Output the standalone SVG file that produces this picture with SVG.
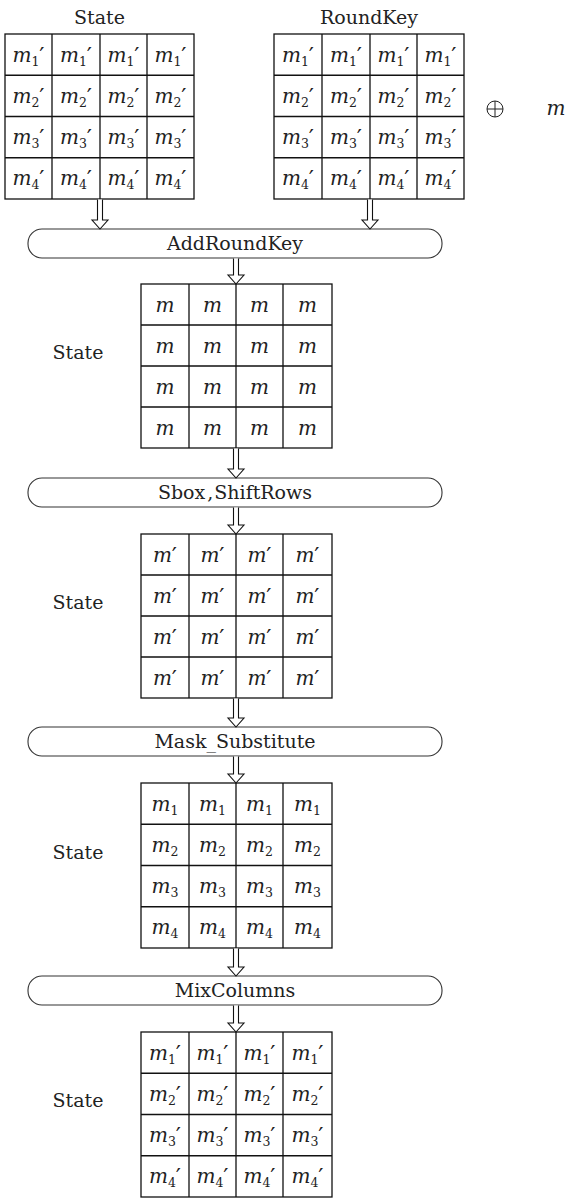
<svg xmlns="http://www.w3.org/2000/svg" width="570" height="1199" viewBox="0 0 570 1199" font-family="'DejaVu Serif', serif">
<style>
  text{fill:#222}
  .t{font-size:19px;text-anchor:middle}
  .c{font-size:20px;text-anchor:middle}
  .i{font-style:italic}
  .s{font-size:12.5px;font-style:normal}
  .p{font-size:23px}
  .g{fill:#fff;stroke:#111;stroke-width:1.3}
  .ln{stroke:#111;stroke-width:1.3;fill:none}
  .box{fill:#fff;stroke:#333;stroke-width:1.1}
  .arr{fill:#fff;stroke:#111;stroke-width:1.1;stroke-linejoin:miter}
</style>
<rect width="570" height="1199" fill="#fff"/>

<!-- input state matrix -->
<g id="state-in">
  <text class="t" x="99.5" y="24">State</text>
  <rect class="g" x="5" y="34" width="189" height="165"/>
  <path class="ln" d="M52,34V199M100,34V199M147,34V199M5,75.25H194M5,116.5H194M5,157.75H194"/>
  <text class="c" x="28.5" y="62"><tspan class="i">m</tspan><tspan class="s" dy="4">1</tspan><tspan class="p" dy="-3">′</tspan></text>
  <text class="c" x="76" y="62"><tspan class="i">m</tspan><tspan class="s" dy="4">1</tspan><tspan class="p" dy="-3">′</tspan></text>
  <text class="c" x="123.5" y="62"><tspan class="i">m</tspan><tspan class="s" dy="4">1</tspan><tspan class="p" dy="-3">′</tspan></text>
  <text class="c" x="170.5" y="62"><tspan class="i">m</tspan><tspan class="s" dy="4">1</tspan><tspan class="p" dy="-3">′</tspan></text>
  <text class="c" x="28.5" y="103"><tspan class="i">m</tspan><tspan class="s" dy="4">2</tspan><tspan class="p" dy="-3">′</tspan></text>
  <text class="c" x="76" y="103"><tspan class="i">m</tspan><tspan class="s" dy="4">2</tspan><tspan class="p" dy="-3">′</tspan></text>
  <text class="c" x="123.5" y="103"><tspan class="i">m</tspan><tspan class="s" dy="4">2</tspan><tspan class="p" dy="-3">′</tspan></text>
  <text class="c" x="170.5" y="103"><tspan class="i">m</tspan><tspan class="s" dy="4">2</tspan><tspan class="p" dy="-3">′</tspan></text>
  <text class="c" x="28.5" y="144"><tspan class="i">m</tspan><tspan class="s" dy="4">3</tspan><tspan class="p" dy="-3">′</tspan></text>
  <text class="c" x="76" y="144"><tspan class="i">m</tspan><tspan class="s" dy="4">3</tspan><tspan class="p" dy="-3">′</tspan></text>
  <text class="c" x="123.5" y="144"><tspan class="i">m</tspan><tspan class="s" dy="4">3</tspan><tspan class="p" dy="-3">′</tspan></text>
  <text class="c" x="170.5" y="144"><tspan class="i">m</tspan><tspan class="s" dy="4">3</tspan><tspan class="p" dy="-3">′</tspan></text>
  <text class="c" x="28.5" y="185"><tspan class="i">m</tspan><tspan class="s" dy="4">4</tspan><tspan class="p" dy="-3">′</tspan></text>
  <text class="c" x="76" y="185"><tspan class="i">m</tspan><tspan class="s" dy="4">4</tspan><tspan class="p" dy="-3">′</tspan></text>
  <text class="c" x="123.5" y="185"><tspan class="i">m</tspan><tspan class="s" dy="4">4</tspan><tspan class="p" dy="-3">′</tspan></text>
  <text class="c" x="170.5" y="185"><tspan class="i">m</tspan><tspan class="s" dy="4">4</tspan><tspan class="p" dy="-3">′</tspan></text>
</g>

<!-- round key matrix -->
<g id="roundkey">
  <text class="t" x="369" y="24">RoundKey</text>
  <rect class="g" x="274" y="34" width="190" height="165"/>
  <path class="ln" d="M322,34V199M370,34V199M417,34V199M274,75.25H464M274,116.5H464M274,157.75H464"/>
  <text class="c" x="298" y="62"><tspan class="i">m</tspan><tspan class="s" dy="4">1</tspan><tspan class="p" dy="-3">′</tspan></text>
  <text class="c" x="346" y="62"><tspan class="i">m</tspan><tspan class="s" dy="4">1</tspan><tspan class="p" dy="-3">′</tspan></text>
  <text class="c" x="393.5" y="62"><tspan class="i">m</tspan><tspan class="s" dy="4">1</tspan><tspan class="p" dy="-3">′</tspan></text>
  <text class="c" x="440.5" y="62"><tspan class="i">m</tspan><tspan class="s" dy="4">1</tspan><tspan class="p" dy="-3">′</tspan></text>
  <text class="c" x="298" y="103"><tspan class="i">m</tspan><tspan class="s" dy="4">2</tspan><tspan class="p" dy="-3">′</tspan></text>
  <text class="c" x="346" y="103"><tspan class="i">m</tspan><tspan class="s" dy="4">2</tspan><tspan class="p" dy="-3">′</tspan></text>
  <text class="c" x="393.5" y="103"><tspan class="i">m</tspan><tspan class="s" dy="4">2</tspan><tspan class="p" dy="-3">′</tspan></text>
  <text class="c" x="440.5" y="103"><tspan class="i">m</tspan><tspan class="s" dy="4">2</tspan><tspan class="p" dy="-3">′</tspan></text>
  <text class="c" x="298" y="144"><tspan class="i">m</tspan><tspan class="s" dy="4">3</tspan><tspan class="p" dy="-3">′</tspan></text>
  <text class="c" x="346" y="144"><tspan class="i">m</tspan><tspan class="s" dy="4">3</tspan><tspan class="p" dy="-3">′</tspan></text>
  <text class="c" x="393.5" y="144"><tspan class="i">m</tspan><tspan class="s" dy="4">3</tspan><tspan class="p" dy="-3">′</tspan></text>
  <text class="c" x="440.5" y="144"><tspan class="i">m</tspan><tspan class="s" dy="4">3</tspan><tspan class="p" dy="-3">′</tspan></text>
  <text class="c" x="298" y="185"><tspan class="i">m</tspan><tspan class="s" dy="4">4</tspan><tspan class="p" dy="-3">′</tspan></text>
  <text class="c" x="346" y="185"><tspan class="i">m</tspan><tspan class="s" dy="4">4</tspan><tspan class="p" dy="-3">′</tspan></text>
  <text class="c" x="393.5" y="185"><tspan class="i">m</tspan><tspan class="s" dy="4">4</tspan><tspan class="p" dy="-3">′</tspan></text>
  <text class="c" x="440.5" y="185"><tspan class="i">m</tspan><tspan class="s" dy="4">4</tspan><tspan class="p" dy="-3">′</tspan></text>
</g>

<!-- xor with mask m -->
<g id="xor-m">
  <circle cx="495" cy="109" r="8" fill="none" stroke="#222" stroke-width="1"/>
  <path d="M487,109H503M495,101V117" stroke="#222" stroke-width="1"/>
  <text class="c i" x="556" y="115">m</text>
</g>

<!-- operation steps -->
<g id="op-addroundkey">
  <rect class="box" x="28" y="229" width="414" height="29" rx="14"/>
  <text class="t" x="235" y="250">AddRoundKey</text>
</g>
<g id="op-sbox-shiftrows">
  <rect class="box" x="28" y="478" width="414" height="29" rx="14"/>
  <text class="t" x="235" y="499">Sbox<tspan dx="2">,</tspan><tspan dx="1">ShiftRows</tspan></text>
</g>
<g id="op-mask-substitute">
  <rect class="box" x="28" y="727" width="414" height="29" rx="14"/>
  <text class="t" x="235" y="748">Mask_Substitute</text>
</g>
<g id="op-mixcolumns">
  <rect class="box" x="28" y="976" width="414" height="29" rx="14"/>
  <text class="t" x="235" y="997">MixColumns</text>
</g>

<!-- state after AddRoundKey -->
<g id="state-m">
  <text class="t" x="78" y="359">State</text>
  <rect class="g" x="141" y="284" width="191" height="164"/>
  <path class="ln" d="M189,284V448M236,284V448M283,284V448M141,325H332M141,366H332M141,407H332"/>
  <text class="c i" x="165" y="312">m</text><text class="c i" x="212.5" y="312">m</text><text class="c i" x="259.5" y="312">m</text><text class="c i" x="307.5" y="312">m</text>
  <text class="c i" x="165" y="353">m</text><text class="c i" x="212.5" y="353">m</text><text class="c i" x="259.5" y="353">m</text><text class="c i" x="307.5" y="353">m</text>
  <text class="c i" x="165" y="394">m</text><text class="c i" x="212.5" y="394">m</text><text class="c i" x="259.5" y="394">m</text><text class="c i" x="307.5" y="394">m</text>
  <text class="c i" x="165" y="435">m</text><text class="c i" x="212.5" y="435">m</text><text class="c i" x="259.5" y="435">m</text><text class="c i" x="307.5" y="435">m</text>
</g>

<!-- state after Sbox, ShiftRows -->
<g id="state-mprime">
  <text class="t" x="78" y="609">State</text>
  <rect class="g" x="141" y="534" width="191" height="164"/>
  <path class="ln" d="M189,534V698M236,534V698M283,534V698M141,575H332M141,616H332M141,657H332"/>
  <text class="c" x="165" y="562"><tspan class="i">m</tspan><tspan class="p" dy="1">′</tspan></text>
  <text class="c" x="212.5" y="562"><tspan class="i">m</tspan><tspan class="p" dy="1">′</tspan></text>
  <text class="c" x="259.5" y="562"><tspan class="i">m</tspan><tspan class="p" dy="1">′</tspan></text>
  <text class="c" x="307.5" y="562"><tspan class="i">m</tspan><tspan class="p" dy="1">′</tspan></text>
  <text class="c" x="165" y="603"><tspan class="i">m</tspan><tspan class="p" dy="1">′</tspan></text>
  <text class="c" x="212.5" y="603"><tspan class="i">m</tspan><tspan class="p" dy="1">′</tspan></text>
  <text class="c" x="259.5" y="603"><tspan class="i">m</tspan><tspan class="p" dy="1">′</tspan></text>
  <text class="c" x="307.5" y="603"><tspan class="i">m</tspan><tspan class="p" dy="1">′</tspan></text>
  <text class="c" x="165" y="644"><tspan class="i">m</tspan><tspan class="p" dy="1">′</tspan></text>
  <text class="c" x="212.5" y="644"><tspan class="i">m</tspan><tspan class="p" dy="1">′</tspan></text>
  <text class="c" x="259.5" y="644"><tspan class="i">m</tspan><tspan class="p" dy="1">′</tspan></text>
  <text class="c" x="307.5" y="644"><tspan class="i">m</tspan><tspan class="p" dy="1">′</tspan></text>
  <text class="c" x="165" y="685"><tspan class="i">m</tspan><tspan class="p" dy="1">′</tspan></text>
  <text class="c" x="212.5" y="685"><tspan class="i">m</tspan><tspan class="p" dy="1">′</tspan></text>
  <text class="c" x="259.5" y="685"><tspan class="i">m</tspan><tspan class="p" dy="1">′</tspan></text>
  <text class="c" x="307.5" y="685"><tspan class="i">m</tspan><tspan class="p" dy="1">′</tspan></text>
</g>

<!-- state after Mask_Substitute -->
<g id="state-mi">
  <text class="t" x="78" y="859">State</text>
  <rect class="g" x="141" y="783" width="191" height="165"/>
  <path class="ln" d="M189,783V948M236,783V948M283,783V948M141,824.25H332M141,865.5H332M141,906.75H332"/>
  <text class="c" x="165" y="811"><tspan class="i">m</tspan><tspan class="s" dy="4">1</tspan></text>
  <text class="c" x="212.5" y="811"><tspan class="i">m</tspan><tspan class="s" dy="4">1</tspan></text>
  <text class="c" x="259.5" y="811"><tspan class="i">m</tspan><tspan class="s" dy="4">1</tspan></text>
  <text class="c" x="307.5" y="811"><tspan class="i">m</tspan><tspan class="s" dy="4">1</tspan></text>
  <text class="c" x="165" y="852"><tspan class="i">m</tspan><tspan class="s" dy="4">2</tspan></text>
  <text class="c" x="212.5" y="852"><tspan class="i">m</tspan><tspan class="s" dy="4">2</tspan></text>
  <text class="c" x="259.5" y="852"><tspan class="i">m</tspan><tspan class="s" dy="4">2</tspan></text>
  <text class="c" x="307.5" y="852"><tspan class="i">m</tspan><tspan class="s" dy="4">2</tspan></text>
  <text class="c" x="165" y="893"><tspan class="i">m</tspan><tspan class="s" dy="4">3</tspan></text>
  <text class="c" x="212.5" y="893"><tspan class="i">m</tspan><tspan class="s" dy="4">3</tspan></text>
  <text class="c" x="259.5" y="893"><tspan class="i">m</tspan><tspan class="s" dy="4">3</tspan></text>
  <text class="c" x="307.5" y="893"><tspan class="i">m</tspan><tspan class="s" dy="4">3</tspan></text>
  <text class="c" x="165" y="934"><tspan class="i">m</tspan><tspan class="s" dy="4">4</tspan></text>
  <text class="c" x="212.5" y="934"><tspan class="i">m</tspan><tspan class="s" dy="4">4</tspan></text>
  <text class="c" x="259.5" y="934"><tspan class="i">m</tspan><tspan class="s" dy="4">4</tspan></text>
  <text class="c" x="307.5" y="934"><tspan class="i">m</tspan><tspan class="s" dy="4">4</tspan></text>
</g>

<!-- state after MixColumns -->
<g id="state-out">
  <text class="t" x="78" y="1107">State</text>
  <rect class="g" x="141" y="1032" width="191" height="165"/>
  <path class="ln" d="M189,1032V1197M236,1032V1197M283,1032V1197M141,1073.25H332M141,1114.5H332M141,1155.75H332"/>
  <text class="c" x="165" y="1060"><tspan class="i">m</tspan><tspan class="s" dy="4">1</tspan><tspan class="p" dy="-3">′</tspan></text>
  <text class="c" x="212.5" y="1060"><tspan class="i">m</tspan><tspan class="s" dy="4">1</tspan><tspan class="p" dy="-3">′</tspan></text>
  <text class="c" x="259.5" y="1060"><tspan class="i">m</tspan><tspan class="s" dy="4">1</tspan><tspan class="p" dy="-3">′</tspan></text>
  <text class="c" x="307.5" y="1060"><tspan class="i">m</tspan><tspan class="s" dy="4">1</tspan><tspan class="p" dy="-3">′</tspan></text>
  <text class="c" x="165" y="1101"><tspan class="i">m</tspan><tspan class="s" dy="4">2</tspan><tspan class="p" dy="-3">′</tspan></text>
  <text class="c" x="212.5" y="1101"><tspan class="i">m</tspan><tspan class="s" dy="4">2</tspan><tspan class="p" dy="-3">′</tspan></text>
  <text class="c" x="259.5" y="1101"><tspan class="i">m</tspan><tspan class="s" dy="4">2</tspan><tspan class="p" dy="-3">′</tspan></text>
  <text class="c" x="307.5" y="1101"><tspan class="i">m</tspan><tspan class="s" dy="4">2</tspan><tspan class="p" dy="-3">′</tspan></text>
  <text class="c" x="165" y="1142"><tspan class="i">m</tspan><tspan class="s" dy="4">3</tspan><tspan class="p" dy="-3">′</tspan></text>
  <text class="c" x="212.5" y="1142"><tspan class="i">m</tspan><tspan class="s" dy="4">3</tspan><tspan class="p" dy="-3">′</tspan></text>
  <text class="c" x="259.5" y="1142"><tspan class="i">m</tspan><tspan class="s" dy="4">3</tspan><tspan class="p" dy="-3">′</tspan></text>
  <text class="c" x="307.5" y="1142"><tspan class="i">m</tspan><tspan class="s" dy="4">3</tspan><tspan class="p" dy="-3">′</tspan></text>
  <text class="c" x="165" y="1183"><tspan class="i">m</tspan><tspan class="s" dy="4">4</tspan><tspan class="p" dy="-3">′</tspan></text>
  <text class="c" x="212.5" y="1183"><tspan class="i">m</tspan><tspan class="s" dy="4">4</tspan><tspan class="p" dy="-3">′</tspan></text>
  <text class="c" x="259.5" y="1183"><tspan class="i">m</tspan><tspan class="s" dy="4">4</tspan><tspan class="p" dy="-3">′</tspan></text>
  <text class="c" x="307.5" y="1183"><tspan class="i">m</tspan><tspan class="s" dy="4">4</tspan><tspan class="p" dy="-3">′</tspan></text>
</g>

<!-- hollow block arrows between stages -->
<g id="connectors">
  <path class="arr" d="M97.5,199.5V220H92L100,229L108,220H102.5V199.5"/>
  <path class="arr" d="M367.5,199.5V220H362L370,229L378,220H372.5V199.5"/>
  <path class="arr" d="M233.5,258.5V275H228L236,284L244,275H238.5V258.5"/>
  <path class="arr" d="M233.5,448.5V469H228L236,478L244,469H238.5V448.5"/>
  <path class="arr" d="M233.5,507.5V525H228L236,534L244,525H238.5V507.5"/>
  <path class="arr" d="M233.5,698.5V718H228L236,727L244,718H238.5V698.5"/>
  <path class="arr" d="M233.5,756.5V774H228L236,783L244,774H238.5V756.5"/>
  <path class="arr" d="M233.5,948.5V967H228L236,976L244,967H238.5V948.5"/>
  <path class="arr" d="M233.5,1005.5V1023H228L236,1032L244,1023H238.5V1005.5"/>
</g>
</svg>
